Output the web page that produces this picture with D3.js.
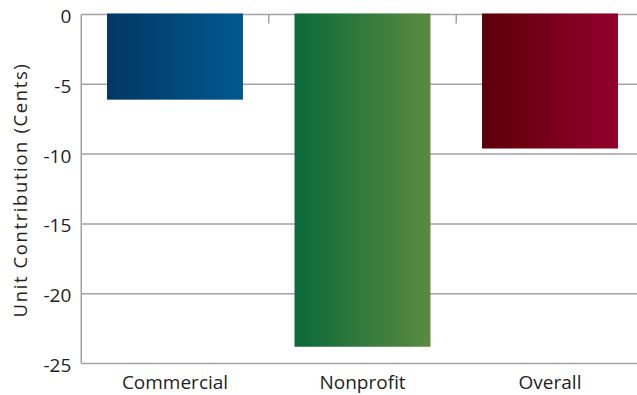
<!DOCTYPE html>
<html>
<head>
<meta charset="utf-8">
<script src="https://cdn.jsdelivr.net/npm/d3@7"></script>
<style>
  html, body { margin: 0; padding: 0; background: #fff; }
  svg text { font-family: "Open Sans", "Noto Sans", sans-serif; fill: #231f20; }
</style>
</head>
<body>
<svg id="chart" width="637" height="395"></svg>
<script>
// Unit contribution per segment, in cents
const categories = ["Commercial", "Nonprofit", "Overall"];
const values = [-6.1, -23.8, -9.6];
const yTicks = [0, -5, -10, -15, -20, -25];
const gradientStops = [
  ["#023764", "#02588f"],
  ["#0b693a", "#5a8a3f"],
  ["#5c0008", "#93002b"]
];

const svg = d3.select("#chart");
const plotLeft = 81.25, plotRight = 643.75, plotTop = 14.5, plotBottom = 363.5;

const x = d3.scaleBand()
  .domain(categories)
  .range([plotLeft, plotRight])
  .paddingInner(0.275)
  .paddingOuter(0.1375);

const y = d3.scaleLinear().domain([-25, 0]).range([plotBottom, plotTop]);

// Horizontal gradients for each bar
const defs = svg.append("defs");
categories.forEach((c, i) => {
  const g = defs.append("linearGradient")
    .attr("id", "grad" + i)
    .attr("x1", "0%").attr("x2", "100%").attr("y1", "0%").attr("y2", "0%");
  g.append("stop").attr("offset", "0%").attr("stop-color", gradientStops[i][0]);
  g.append("stop").attr("offset", "100%").attr("stop-color", gradientStops[i][1]);
});

// Gridlines
svg.append("g")
  .selectAll("line")
  .data(yTicks)
  .join("line")
  .attr("x1", plotLeft).attr("x2", 637)
  .attr("y1", d => y(d)).attr("y2", d => y(d))
  .attr("stroke", "#a3a3a3")
  .attr("stroke-width", 1.5);

// Left axis line and tick labels
svg.append("line")
  .attr("x1", plotLeft).attr("x2", plotLeft)
  .attr("y1", y(0)).attr("y2", y(-25))
  .attr("stroke", "#a3a3a3").attr("stroke-width", 1.5);

const yAxis = d3.axisLeft(y).tickValues(yTicks).tickSize(0).tickPadding(10)
  .tickFormat(d => d === 0 ? "0" : "-" + Math.abs(d));
const yg = svg.append("g").attr("transform", `translate(${plotLeft},2)`).call(yAxis);
yg.select(".domain").remove();
yg.selectAll("text")
  .style("font-size", "19px")
  .style("font-family", "'Open Sans', sans-serif")
  .attr("fill", "#231f20");

// Category separator ticks along the zero line
const sepTicks = d3.range(1, categories.length).map(i => plotLeft + x.step() * i);
svg.append("g")
  .selectAll("line")
  .data(sepTicks)
  .join("line")
  .attr("x1", d => d).attr("x2", d => d)
  .attr("y1", y(0)).attr("y2", y(0) + 9)
  .attr("stroke", "#a3a3a3").attr("stroke-width", 1.5);

// Bars
svg.append("g")
  .selectAll("rect")
  .data(categories)
  .join("rect")
  .attr("x", d => x(d))
  .attr("width", x.bandwidth())
  .attr("y", y(0) - 1)
  .attr("height", (d, i) => y(values[i]) - y(0) + 1)
  .attr("fill", (d, i) => `url(#grad${i})`);

// Category labels below the plot
const xAxis = d3.axisBottom(x).tickSize(0).tickPadding(12);
const xg = svg.append("g").attr("transform", `translate(0,${plotBottom})`).call(xAxis);
xg.select(".domain").remove();
xg.selectAll("text")
  .style("font-size", "19px")
  .style("font-family", "'Open Sans', sans-serif")
  .attr("fill", "#231f20");

// Y-axis title
svg.append("text")
  .attr("transform", `translate(27,${(plotTop + plotBottom) / 2 + 1}) rotate(-90)`)
  .attr("text-anchor", "middle")
  .style("font-size", "18.5px")
  .style("letter-spacing", "1.6px")
  .text("Unit Contribution (Cents)");
</script>
</body>
</html>
